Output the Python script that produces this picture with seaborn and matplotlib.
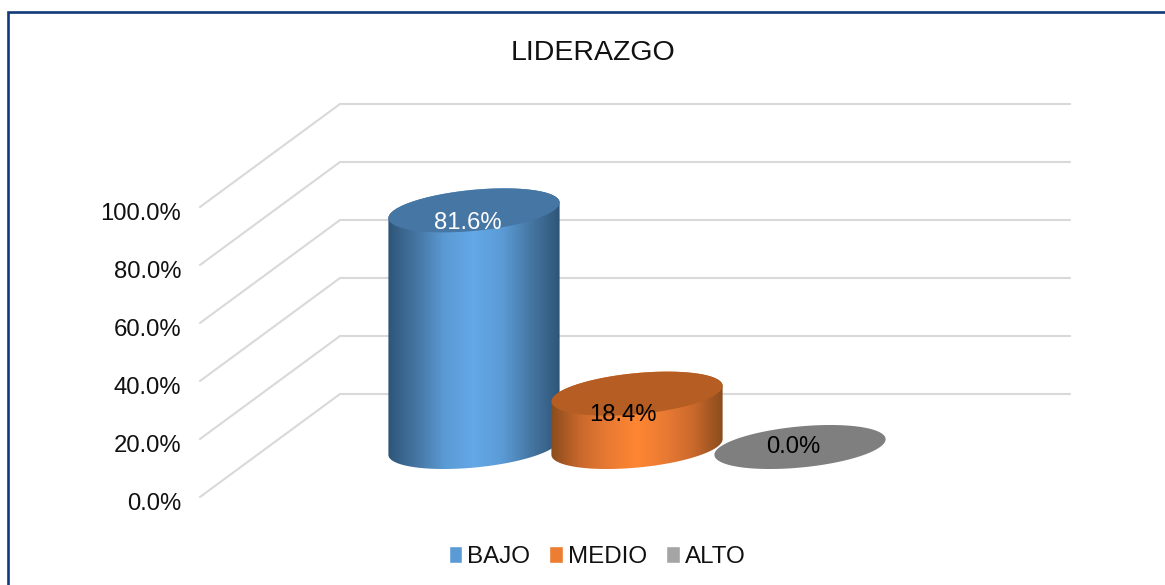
import numpy as np
import pandas as pd
import seaborn as sns
import matplotlib.pyplot as plt
from matplotlib.colors import LinearSegmentedColormap
from matplotlib.patches import Polygon, Rectangle
from matplotlib.ticker import PercentFormatter
from matplotlib.transforms import ScaledTranslation

# Data
niveles = ['BAJO', 'MEDIO', 'ALTO']
valores = [81.6, 18.4, 0.0]
ticks = [0, 20, 40, 60, 80, 100]

colores = ['#5B9BD5', '#ED7D31', '#A5A5A5']
tapas = ['#4676A3', '#B55D22', '#7F7F7F']
rampas = [['#2F5578', '#4676A3', '#5B9BD5', '#64A8E8', '#5B9BD5', '#4676A3', '#2F5578'],
          ['#8A4C1C', '#C9682C', '#E97A33', '#FF8632', '#E97A33', '#C9682C', '#8A4C1C'],
          ['#7F7F7F', '#7F7F7F']]
color_label = ['white', 'black', 'black']
offset_label = [(-6, -13), (-14, -21), (-7, 0)]

sns.set_theme(style='white')
plt.rcParams['font.family'] = ['Liberation Sans', 'DejaVu Sans']

W, H = 1165, 585
PX_POR_PCT = 2.9

fig = plt.figure(figsize=(W / 100, H / 100), dpi=100, facecolor='white')

# Marco del grafico, cortado a la derecha y abajo
fig.add_artist(Rectangle((8 / W, -0.05), 1.1, 1.05 - 12 / H, transform=fig.transFigure,
                         fill=False, edgecolor='#123A7A', linewidth=1.9))

# Pared: eje de valores en el plano frontal, lineas en diagonal hacia el fondo
ax_wall = fig.add_axes([200 / W, (H - 497) / H, 870 / W, 290 / H])
ax_wall.set_xlim(0, 870)
ax_wall.set_ylim(0, 100)
fondo_x, fondo_y = 140, 103 / PX_POR_PCT
for t in ticks:
    ax_wall.plot([0, fondo_x, 870], [t, t + fondo_y, t + fondo_y], color='#D9D9D9', lw=1.5,
                 clip_on=False, solid_joinstyle='miter')
ax_wall.set_yticks(ticks)
ax_wall.yaxis.set_major_formatter(PercentFormatter(decimals=1))
ax_wall.set_xticks([])
ax_wall.tick_params(axis='y', length=0, pad=13.5, labelsize=17.2, labelcolor='#111111')
for lab in ax_wall.get_yticklabels():
    lab.set_transform(lab.get_transform() + ScaledTranslation(0, -4.5 / 100, fig.dpi_scale_trans))
sns.despine(ax=ax_wall, left=True, bottom=True)
ax_wall.patch.set_visible(False)

# Cilindros en el plano medio; el eje ocupa toda la figura
ax = fig.add_axes([0, 0, 1, 1])
df = pd.DataFrame({'nivel': niveles, 'valor': valores})
sns.barplot(data=df, x='nivel', y='valor', hue='nivel', palette=colores, hue_order=niveles,
            width=1.055, saturation=1, ax=ax, legend=True)
ax.set_xlim(-474 / 163, (W - 474) / 163)
ax.set_ylim(-(H - 447) / PX_POR_PCT, 447 / PX_POR_PCT)
ax.patch.set_visible(False)


def elipse(cx, cy, a, b, ang, t):
    # puntos de la elipse inclinada, en pixeles
    c, s = np.cos(ang), np.sin(ang)
    return np.column_stack([cx + a * np.cos(t) * c - b * np.sin(t) * s,
                            cy + a * np.cos(t) * s + b * np.sin(t) * c])


ANG = np.deg2rad(5.5)
B_ELIPSE = 20.5
t_izq = np.arctan2(-B_ELIPSE * np.sin(ANG), 86 * np.cos(ANG)) + np.pi

bars = [c[0] for c in ax.containers]
for i, bar in enumerate(bars):
    xc = bar.get_x() + bar.get_width() / 2
    v = bar.get_height()
    x0, _ = ax.transData.transform((bar.get_x(), 0))
    x1, _ = ax.transData.transform((bar.get_x() + bar.get_width(), 0))
    cx, y_base = ax.transData.transform((xc, 0))
    _, y_top = ax.transData.transform((xc, v))
    a = (x1 - x0) / 2
    bar.set_visible(False)

    if v > 0:
        # silueta del cuerpo: media elipse abajo, media elipse arriba
        t_abajo = np.linspace(t_izq, t_izq + np.pi, 80)
        t_arriba = np.linspace(t_izq + np.pi, t_izq + 2 * np.pi, 80)
        sil = np.vstack([elipse(cx, y_base, a, B_ELIPSE, ANG, t_abajo),
                         elipse(cx, y_top, a, B_ELIPSE, ANG, t_arriba)])
        cuerpo = Polygon(sil, closed=True, transform=None, facecolor='none', edgecolor='none')
        ax.add_artist(cuerpo)
        cmap = LinearSegmentedColormap.from_list('cil', rampas[i])
        im = ax.imshow(np.linspace(0, 1, 256)[None, :], cmap=cmap, aspect='auto', zorder=2 + i,
                       extent=(bar.get_x(), bar.get_x() + bar.get_width(), -12, v + 12))
        im.set_clip_path(cuerpo)

    tapa = Polygon(elipse(cx, y_top, a, B_ELIPSE, ANG, np.linspace(0, 2 * np.pi, 160)),
                   closed=True, transform=None, facecolor=tapas[i], edgecolor='none', zorder=2.5 + i)
    ax.add_artist(tapa)

    dx, dy = offset_label[i]
    ax.annotate(f'{v:.1f}%', xy=(xc, v), xytext=(dx * 0.72, dy * 0.72), textcoords='offset points',
                ha='center', va='center', fontsize=17.2, color=color_label[i], zorder=10)

ax.set_xlim(-474 / 163, (W - 474) / 163)
ax.set_ylim(-(H - 447) / PX_POR_PCT, 447 / PX_POR_PCT)
ax.axis('off')

leg = ax.legend(loc='center', bbox_to_anchor=(597 / W, 28 / H), bbox_transform=fig.transFigure, ncol=3,
                frameon=False, fontsize=17.4, handlelength=0.56, handleheight=0.72, handletextpad=0.2,
                columnspacing=0.8, labelcolor='#111111', borderpad=0)

fig.text(593 / W, (H - 53) / H, 'LIDERAZGO', ha='center', va='center', fontsize=20.5, color='#111111')

fig.savefig('out.png', dpi=100, facecolor='white')
